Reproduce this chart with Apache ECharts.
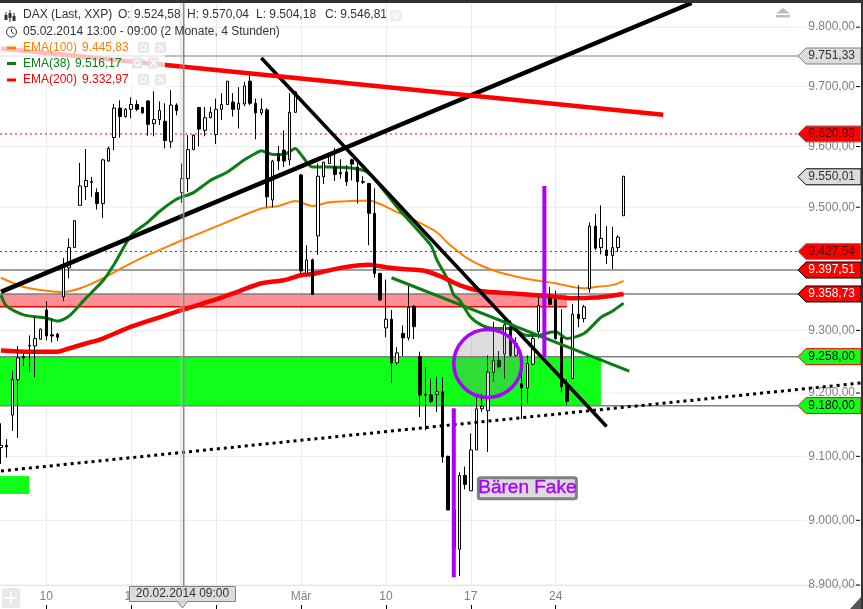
<!DOCTYPE html>
<html><head><meta charset="utf-8">
<style>html,body{margin:0;padding:0;background:#fff}#c{width:863px;height:609px}</style>
<script src="https://cdn.jsdelivr.net/npm/echarts@6/dist/echarts.min.js"></script>
</head><body><div id="c"></div>
<script>
// ---- data ----
const xTickIndex=[8,23,38,53,68,83,98];
const xTickLabels=['10','17','24','Mär','10','17','24'];
const yTickValues=[9800,9700,9600,9500,9300,9200,9100,9000,8900];
const yTickLabels=['9.800,00','9.700,00','9.600,00','9.500,00','9.300,00','9.200,00','9.100,00','9.000,00','8.900,00'];
// open, close, low, high
const candles=[
[9114,9117,9088,9152],[9117,9115,9098,9127],[9165,9221,9140,9235],[9221,9256,9129,9275],[9258,9256,9243,9264],
[9276,9275,9234,9292],[9275,9287,9225,9322],[9286,9302,9285,9303],[9333,9291,9284,9347],[9293,9291,9281,9320],
[9294,9289,9283,9296],[9354,9406,9347,9417],[9401,9434,9384,9449],[9434,9478,9434,9478],[9503,9535,9503,9573],
[9534,9544,9512,9596],[9542,9541,9517,9550],[9524,9506,9496,9531],[9506,9578,9482,9580],[9576,9597,9575,9600],
[9615,9664,9594,9671],[9664,9650,9615,9677],[9650,9662,9648,9664],[9662,9670,9647,9682],[9670,9662,9659,9677],
[9665,9656,9655,9666],[9676,9637,9618,9677],[9638,9645,9617,9692],[9645,9660,9636,9675],[9642,9610,9597,9672],
[9608,9669,9598,9694],[9669,9660,9652,9672],[9524,9547,9507,9572],[9547,9595,9525,9619],[9595,9619,9594,9620],
[9665,9629,9600,9666],[9627,9648,9617,9666],[9648,9657,9647,9666],[9620,9662,9604,9680],[9662,9670,9644,9689],
[9670,9709,9670,9709],[9674,9662,9650,9689],[9662,9672,9630,9699],[9671,9701,9667,9708],[9709,9672,9669,9719],
[9672,9656,9612,9680],[9656,9662,9652,9680],[9661,9517,9500,9664],[9512,9576,9500,9578],[9588,9576,9561,9601],
[9594,9576,9566,9627],[9578,9657,9569,9689],[9657,9691,9656,9692],[9553,9396,9392,9555],[9392,9414,9392,9438],
[9414,9358,9358,9416],[9453,9551,9422,9572],[9550,9574,9538,9575],[9572,9589,9571,9590],[9566,9554,9543,9598],
[9557,9555,9547,9579],[9558,9542,9535,9569],[9578,9571,9544,9580],[9566,9542,9506,9578],[9542,9541,9538,9551],
[9539,9490,9438,9540],[9490,9392,9385,9531],[9392,9349,9347,9393],[9304,9318,9289,9382],[9318,9248,9216,9333],
[9248,9264,9245,9273],[9295,9288,9259,9308],[9288,9337,9284,9373],[9339,9306,9286,9341],[9258,9197,9162,9266],
[9198,9197,9141,9241],[9197,9187,9184,9223],[9198,9202,9170,9226],[9202,9099,9090,9225],[9100,9016,9016,9101],
[9016,8957,8955,9019],[8955,9070,8914,9075],[9070,9056,9048,9084],[9046,9110,9046,9136],[9110,9175,9110,9199],
[9175,9179,9170,9199],[9172,9233,9107,9260],[9233,9252,9218,9314],[9252,9242,9239,9267],[9262,9309,9223,9324],
[9306,9260,9257,9316],[9260,9279,9257,9289],[9215,9208,9159,9244],[9208,9247,9183,9260],[9246,9287,9244,9297],
[9298,9340,9287,9354],[9340,9350,9335,9355],[9352,9342,9340,9370],[9350,9287,9285,9364],[9289,9210,9201,9334],
[9212,9187,9181,9222],[9223,9326,9222,9343],[9326,9319,9305,9373],[9319,9338,9313,9341],[9367,9469,9361,9475],
[9469,9433,9430,9489],[9434,9449,9423,9503],[9430,9421,9407,9469],[9421,9434,9399,9468],[9434,9451,9427,9454],
[9486,9551,9486,9551]];
const ema100=[[0,9385],[4,9370],[8,9364],[11,9362],[14,9368],[18,9384],[22,9404],[26,9422],[30,9438],[32,9446],[34,9453],[40,9476],[46,9498],[49,9502],[52,9510],[55,9502],[58,9508],[62,9510],[65,9511],[67,9505],[70,9492],[73,9479],[77,9459],[79,9441],[82,9419],[85,9404],[88,9394],[92,9385],[95,9380],[98,9376],[101,9370],[103,9368],[105,9370],[108,9373],[110,9380]];
const ema38=[[0,9357],[1,9339],[4,9325],[8,9320],[10,9315],[12,9323],[15,9352],[18,9380],[20,9407],[23,9454],[26,9476],[28,9493],[31,9513],[34,9524],[37,9544],[40,9558],[43,9578],[45,9589],[46,9593],[48,9587],[50,9587],[52,9597],[53,9587],[55,9566],[58,9566],[63,9563],[65,9556],[67,9535],[70,9500],[73,9469],[76,9437],[77,9414],[79,9381],[80,9357],[81,9349],[83,9321],[85,9308],[87,9303],[90,9303],[93,9292],[95,9292],[97,9297],[98,9298],[100,9287],[103,9295],[106,9321],[108,9331],[110,9344]];
const ema200=[[0,9268],[5,9266],[10,9266],[12,9271],[15,9279],[18,9287],[23,9306],[28,9321],[32,9333],[38,9350],[42,9363],[46,9376],[50,9381],[53,9389],[55,9391],[60,9401],[65,9406],[68,9402],[71,9399],[75,9396],[78,9386],[81,9373],[85,9363],[90,9360],[97,9355],[101,9352],[105,9353],[108,9356],[110,9358.73]];
const trendUp=[[0,9362],[122,9841]];
const trendDown=[[46,9748],[107,9147]];
const trendRed=[[0,9764],[117,9653]];
const trendGreen=[[69,9385],[111,9235]];
const trendDotted=[[0,9077],[152,9216]];
const purpleA=[[80,9176],[80,8912]];
const purpleB=[[96,9535],[96,9258]];
const levelValues=[9751.33,9620.93,9550.01,9427.54,9397.51,9358.73,9258,9180];
const levelLabels=['9.751,33','9.620,93','9.550,01','9.427,54','9.397,51','9.358,73','9.258,00','9.180,00'];
const greenZone=[0,106,9258,9180];
const pinkZone=[0,100,9358.73,9338];
const smallGreen=[0,5,9069,9041];
const circlePoint=[86,9247];
const fakeLabelPoint=[93,9050];
const fakeLabel='Bären Fake';
const headerText='DAX (Last, XXP)';
const ohlcTexts=['O: 9.524,58','H: 9.570,04','L: 9.504,18','C: 9.546,81'];
const rangeText='05.02.2014 13:00 - 09:00 (2 Monate, 4 Stunden)';
const emaNames=['EMA(100)','EMA(38)','EMA(200)'];
const emaLast=['9.445,83','9.516,17','9.332,97'];
const crossLabel='20.02.2014 09:00';

// ---- styling ----
const FONT='"Liberation Sans",Arial,sans-serif';
const GREEN='#10ff1a',RED='#ff0000',GRAY='#808080',PURPLE='#aa00ff',PANEL='#dcdcdc';
const EMA_COL=['#ff8000','#0a7d14','#ff0000'];
const levelStyle=[
 {line:'solid',w:1,fill:PANEL,border:GRAY,text:'#333'},
 {line:'dot',fill:RED,border:GRAY,text:'#4a1010'},
 {fill:PANEL,border:'#000',text:'#333'},
 {line:'dot',fill:RED,border:GRAY,text:'#4a1010'},
 {line:'solid',w:1.5,fill:RED,border:'#000',text:'#fff'},
 {line:'solid',w:1.5,fill:RED,border:'#000',text:'#fff'},
 {line:'solid',w:1.5,fill:GREEN,border:RED,text:'#000'},
 {line:'solid',w:1.5,fill:GREEN,border:RED,text:'#000'}];

const N=153;
const categories=Array.from({length:N},()=>'');
xTickIndex.forEach((idx,k)=>{categories[idx]=xTickLabels[k];});
const isTick=(i)=>xTickIndex.indexOf(i)>=0;

function line(name,data,color,width,z,extra,smooth){
  return {name,type:'line',data,z,silent:true,showSymbol:false,symbol:'none',animation:false,clip:true,smooth:smooth||false,
    lineStyle:Object.assign({color,width},extra||{})};
}
function zoneRect(api,zone,fill){
  const a=api.coord([zone[0],zone[2]]),b=api.coord([zone[1],zone[3]]);
  return {type:'rect',shape:{x:a[0]-3,y:a[1],width:b[0]-a[0]+3,height:b[1]-a[1]},style:{fill}};
}

const series=[
 // horizontal grid, value labels and ticks
 {type:'custom',name:'yTicks',z:1,silent:true,animation:false,data:yTickValues.map((v,i)=>[0,v,i]),
  renderItem(p,api){
   const y=api.coord([0,api.value(1)])[1],i=api.value(2);
   return {type:'group',children:[
    {type:'line',shape:{x1:0,y1:y,x2:806,y2:y},style:{stroke:'#ebebeb',lineWidth:1}},
    {type:'line',shape:{x1:856,y1:y,x2:860,y2:y},style:{stroke:'#000',lineWidth:1}},
    {type:'text',style:{text:yTickLabels[i],x:855,y:y,align:'right',verticalAlign:'middle',font:'12px '+FONT,fill:GRAY}}
   ]};
  }},
 // zones
 {type:'custom',name:'zones',z:2,silent:true,animation:false,data:[[0,9300]],
  renderItem(p,api){
   const pb=api.coord([pinkZone[1],pinkZone[3]]);
   return {type:'group',children:[
    zoneRect(api,greenZone,GREEN),
    zoneRect(api,smallGreen,GREEN),
    zoneRect(api,pinkZone,'#ff8f94'),
    {type:'line',shape:{x1:0,y1:pb[1],x2:pb[0],y2:pb[1]},style:{stroke:RED,lineWidth:1.5}}
   ]};
  }},
 // horizontal price levels
 {type:'custom',name:'levels',z:3,silent:true,animation:false,data:levelValues.map((v,i)=>[0,v,i]),
  renderItem(p,api){
   const y=api.coord([0,api.value(1)])[1],s=levelStyle[api.value(2)];
   if(!s.line) return {type:'group',children:[]};
   return {type:'line',shape:{x1:0,y1:y,x2:798,y2:y},
    style:s.line==='dot'?{stroke:RED,lineWidth:1,lineDash:[2,3]}:{stroke:GRAY,lineWidth:s.w}};
  }},
 line('EMA(100)',ema100,EMA_COL[0],2,4,null,0.25),
 line('EMA(38)',ema38,EMA_COL[1],3,4,null,0.25),
 line('EMA(200)',ema200,EMA_COL[2],4.5,4,null,0.25),
 {type:'candlestick',name:'DAX',data:candles,z:5,barWidth:3,silent:true,animation:false,clip:false,
  itemStyle:{color:'#fff',color0:'#000',borderColor:'#000',borderColor0:'#000',borderColorDoji:'#000',borderWidth:1}},
 line('up',trendUp,'#000',4.5,6),
 line('down',trendDown,'#000',3.5,6),
 line('red',trendRed,RED,4.5,6),
 line('greenTrend',trendGreen,EMA_COL[1],3,6),
 line('dotted',trendDotted,'#000',3,7,{type:[3,4]}),
 line('purpleA',purpleA,PURPLE,4,7),
 line('purpleB',purpleB,PURPLE,4,7),
 // circle
 {type:'custom',name:'circle',z:8,silent:true,animation:false,data:[circlePoint],
  renderItem(p,api){
   const c=api.coord([api.value(0),api.value(1)]);
   return {type:'circle',shape:{cx:c[0],cy:c[1],r:34},style:{fill:'rgba(128,128,128,0.27)',stroke:PURPLE,lineWidth:3.5}};
  }},
 // text box
 {type:'custom',name:'fake',z:8,silent:true,animation:false,data:[fakeLabelPoint],
  renderItem(p,api){
   const c=api.coord([api.value(0),api.value(1)]);
   return {type:'group',children:[
    {type:'rect',shape:{x:c[0]-49,y:c[1]-10.5,width:98,height:21,r:2},style:{fill:PANEL,stroke:GRAY,lineWidth:3}},
    {type:'text',style:{text:fakeLabel,x:c[0],y:c[1],align:'center',verticalAlign:'middle',font:'19px '+FONT,fill:PURPLE,stroke:PURPLE,lineWidth:0.4}}
   ]};
  }},
 // price tags
 {type:'custom',name:'tags',z:9,silent:true,animation:false,data:levelValues.map((v,i)=>[0,v,i]),
  renderItem(p,api){
   const y=api.coord([0,api.value(1)])[1],i=api.value(2),s=levelStyle[i];
   return {type:'group',children:[
    {type:'polygon',shape:{points:[[798,y],[806,y-8],[861,y-8],[861,y+8],[806,y+8]]},style:{fill:s.fill,stroke:s.border,lineWidth:1}},
    {type:'text',style:{text:levelLabels[i],x:855,y:y,align:'right',verticalAlign:'middle',font:'12px '+FONT,fill:s.text}}
   ]};
  }}
];

// ---- page furniture ----
const g=[];
const T=(text,x,y,fill,align)=>g.push({type:'text',z:100,style:{text,x,y,fill:fill||'#333',font:'12px '+FONT,align:align||'left',verticalAlign:'middle'}});
const R=(x,y,w,h,fill,extra)=>g.push(Object.assign({type:'rect',z:100,shape:{x,y,width:w,height:h,r:(extra&&extra.r)||0},style:{fill,stroke:extra&&extra.stroke,lineWidth:extra&&extra.lw}}));
// crosshair
R(179.5,3,4,582,'rgba(190,190,190,0.28)');
R(183,3,1.5,583,'#8c8c8c');
// header
g.push({type:'rect',z:99,shape:{x:0,y:40,width:165,height:47},style:{fill:'rgba(255,255,255,0.75)'}});
[[6,12,19],[10,10,22],[14,13,20]].forEach(a=>{
  g.push({type:'line',z:100,shape:{x1:a[0],y1:a[1],x2:a[0],y2:a[2]},style:{stroke:'#333',lineWidth:1}});
  R(a[0]-1.5,a[1]+3,3,5,'#333');
});
T(headerText,23,15);
[118,187,256,325].forEach((x,i)=>T(ohlcTexts[i],x,15));
g.push({type:'rect',z:100,shape:{x:390,y:10,width:12,height:11,r:2},style:{fill:'#eee'}});
g.push({type:'circle',z:100,shape:{cx:396,cy:15.5,r:2.5},style:{fill:'none',stroke:'#fff',lineWidth:1.2}});
g.push({type:'circle',z:100,shape:{cx:11.5,cy:32,r:5},style:{fill:'#fff',stroke:'#333',lineWidth:1}});
g.push({type:'polyline',z:100,shape:{points:[[11.5,28.5],[11.5,32],[14,34]]},style:{fill:'none',stroke:'#333',lineWidth:1}});
T(rangeText,23,32);
// indicator legend
const rows=[48,63.5,80],valX=[82,75,82],iconX=[[138,155],[132,148],[138,155]];
rows.forEach((y,i)=>{
  R(7,y-1.5,9,3,EMA_COL[i]);
  T(emaNames[i],23,y,EMA_COL[i]);
  T(emaLast[i],valX[i],y,EMA_COL[i]);
  iconX[i].forEach((x,k)=>{
    g.push({type:'rect',z:100,shape:{x,y:y-6,width:11,height:11,r:2},style:{fill:'rgba(225,225,225,0.8)'}});
    if(k===0) g.push({type:'circle',z:100,shape:{cx:x+5.5,cy:y-.5,r:2.6},style:{fill:'none',stroke:'#fff',lineWidth:1.2}});
    else{
      g.push({type:'line',z:100,shape:{x1:x+2.5,y1:y-3.5,x2:x+8.5,y2:y+2.5},style:{stroke:'#fff',lineWidth:1.2}});
      g.push({type:'line',z:100,shape:{x1:x+8.5,y1:y-3.5,x2:x+2.5,y2:y+2.5},style:{stroke:'#fff',lineWidth:1.2}});
    }
  });
});
// frame
R(0,0,863,3,'#333');
R(861,0,2,609,'#333');
g.push({type:'polygon',z:100,shape:{points:[[861,597],[861,609],[850,609]]},style:{fill:'#555'}});
// scroll icon
g.push({type:'polygon',z:100,shape:{points:[[783,8],[776,13.5],[790,13.5]]},style:{fill:'#bdbdbd'}});
R(776,15,14,2.5,'#bdbdbd');
// pan icon
g.push({type:'rect',z:100,shape:{x:2,y:588,width:18,height:20,r:3},style:{fill:'#e8e8e8'}});
g.push({type:'line',z:100,shape:{x1:5,y1:598,x2:17,y2:598},style:{stroke:'#fff',lineWidth:2}});
g.push({type:'line',z:100,shape:{x1:11,y1:592,x2:11,y2:604},style:{stroke:'#fff',lineWidth:2}});
// crosshair date box
g.push({type:'rect',z:100,shape:{x:129.5,y:586.5,width:106,height:15},style:{fill:PANEL,stroke:GRAY,lineWidth:1}});
g.push({type:'polygon',z:100,shape:{points:[[177,601],[188,601],[182.5,608]]},style:{fill:PANEL,stroke:GRAY,lineWidth:1}});
g.push({type:'rect',z:100,shape:{x:177.5,y:600,width:10,height:1.5},style:{fill:PANEL}});
T(crossLabel,182.5,594,'#333','center');

const chart=echarts.init(document.getElementById('c'),null,{renderer:'canvas'});
chart.setOption({
 animation:false,backgroundColor:'#fff',
 grid:{left:1,top:3,width:860.32,height:582,containLabel:false},
 xAxis:[
  {type:'category',data:categories,boundaryGap:false,position:'bottom',
   axisLine:{show:true,lineStyle:{color:'#dedede',width:1}},
   axisTick:{show:false},
   axisLabel:{show:true,interval:(i)=>isTick(i),color:GRAY,fontFamily:FONT,fontSize:12,margin:6},
   splitLine:{show:true,interval:(i)=>isTick(i),lineStyle:{color:'#ebebeb',width:1}}},
  {type:'category',data:categories,boundaryGap:false,position:'bottom',offset:20,
   axisLine:{show:false},
   axisTick:{show:true,length:4,interval:(i)=>isTick(i),lineStyle:{color:'#000',width:1}},
   axisLabel:{show:false},splitLine:{show:false}}
 ],
 yAxis:{type:'log',logBase:10,min:8900,max:9841,scale:true,
  axisLine:{show:false},axisTick:{show:false},axisLabel:{show:false},splitLine:{show:false},minorTick:{show:false},minorSplitLine:{show:false}},
 series,
 graphic:{elements:g}
});
</script></body></html>
